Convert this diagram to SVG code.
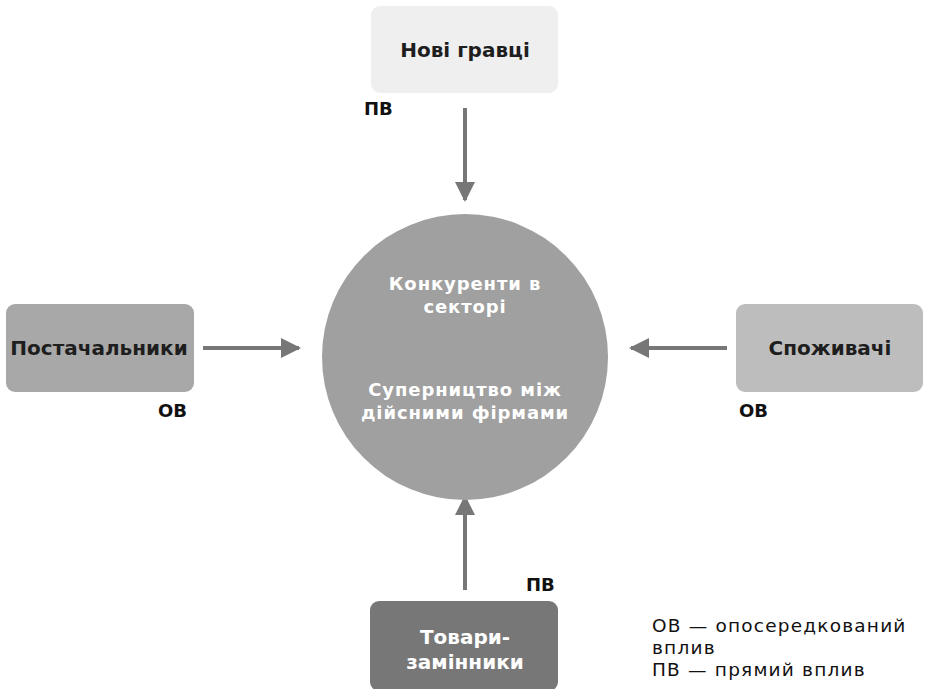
<svg xmlns="http://www.w3.org/2000/svg" width="929" height="689" viewBox="0 0 929 689">
<defs>
<style>
.t{font-family:"DejaVu Sans","Noto Sans",sans-serif;font-weight:bold;font-size:20px;text-anchor:middle;dominant-baseline:central}
.c{font-size:18px;letter-spacing:0.9px}
.dark{fill:#1e1e1e}
.white{fill:#ffffff}
.lbl{font-family:"DejaVu Sans","Noto Sans",sans-serif;font-weight:bold;font-size:18px;fill:#111}
.leg{font-family:"DejaVu Sans","Noto Sans",sans-serif;font-size:18.5px;letter-spacing:1.2px;fill:#111}
.conn{stroke:#777;stroke-width:4;fill:none;marker-end:url(#ah)}
</style>
<marker id="ah" viewBox="0 0 10 10" refX="9" refY="5" markerWidth="5" markerHeight="5" orient="auto" markerUnits="strokeWidth">
<path d="M0,0 L10,5 L0,10 z" fill="#777"/>
</marker>
</defs>
<rect width="929" height="689" fill="#fff"/>
<g id="connectors">
<line class="conn" x1="465" y1="108" x2="465" y2="200"/>
<line class="conn" x1="203" y1="348" x2="299" y2="348"/>
<line class="conn" x1="727" y1="348" x2="631" y2="348"/>
<line class="conn" x1="465" y1="590" x2="465" y2="497"/>
</g>
<g id="node-center">
<circle cx="465" cy="357" r="143" fill="#a0a0a0"/>
<text class="t c white" x="465" y="283">Конкуренти в</text>
<text class="t c white" x="465" y="306">секторі</text>
<text class="t c white" x="465" y="389">Суперництво між</text>
<text class="t c white" x="465" y="412">дійсними фірмами</text>
</g>
<g id="node-new">
<rect x="371" y="6" width="187" height="87" rx="9" fill="#efefef"/>
<text class="t dark" x="465" y="50">Нові гравці</text>
</g>
<g id="node-suppliers">
<rect x="6" y="304" width="188" height="88" rx="9" fill="#a8a8a8"/>
<text class="t dark" x="99" y="348">Постачальники</text>
</g>
<g id="node-consumers">
<rect x="736" y="304" width="187" height="88" rx="9" fill="#bdbdbd"/>
<text class="t dark" x="830" y="348">Споживачі</text>
</g>
<g id="node-substitutes">
<rect x="370" y="601" width="188" height="90" rx="9" fill="#777777"/>
<text class="t white" x="465" y="637">Товари-</text>
<text class="t white" x="465" y="662">замінники</text>
</g>
<g id="labels">
<text class="lbl" x="364" y="115">ПВ</text>
<text class="lbl" x="158" y="417">ОВ</text>
<text class="lbl" x="739" y="417">ОВ</text>
<text class="lbl" x="526" y="591">ПВ</text>
</g>
<g id="legend">
<text class="leg" x="652" y="632">ОВ — опосередкований</text>
<text class="leg" x="652" y="654">вплив</text>
<text class="leg" x="652" y="676">ПВ — прямий вплив</text>
</g>
</svg>
